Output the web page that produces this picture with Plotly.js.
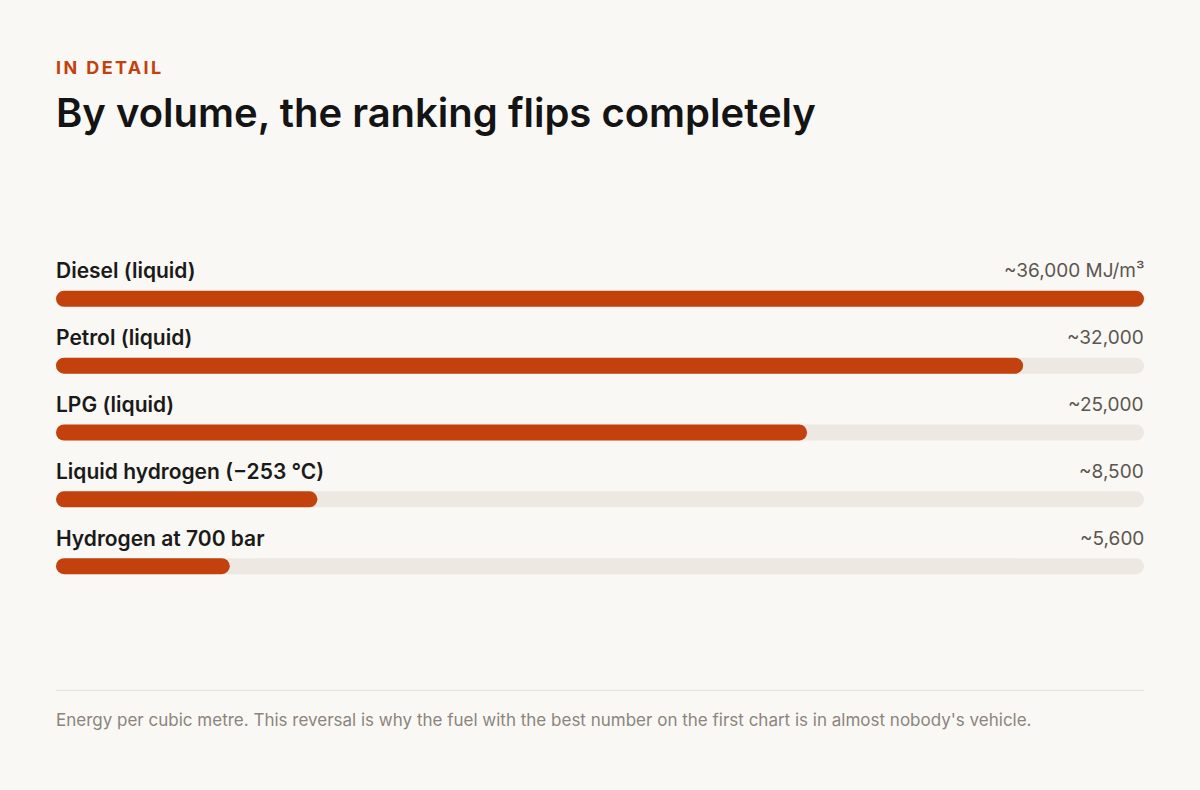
<!DOCTYPE html>
<html>
<head>
<meta charset="utf-8">
<script src="https://cdn.plot.ly/plotly-3.0.1.min.js"></script>
<style>
  html, body { margin: 0; padding: 0; background: #faf8f4; }
  #chart { width: 1200px; height: 790px; }
</style>
</head>
<body>
<div id="chart"></div>
<script>
// ---- data ----
const fuels = ["Diesel (liquid)", "Petrol (liquid)", "LPG (liquid)", "Liquid hydrogen (\u2212253 \u00b0C)", "Hydrogen at 700 bar"];
const energyMJm3 = [36000, 32000, 24850, 8650, 5750];
const valueLabels = ["~36,000 MJ/m\u00b3", "~32,000", "~25,000", "~8,500", "~5,600"];
const scaleMax = 36000;

const kicker = "IN DETAIL";
const titleText = "By volume, the ranking flips completely";
const footnote = "Energy per cubic metre. This reversal is why the fuel with the best number on the first chart is in almost nobody's vehicle.";

// ---- styles ----
const ORANGE = "#c2410c";
const TRACK = "#ede8e1";
const BG = "#faf8f4";
const FONT = "Inter, 'Noto Sans', sans-serif";
const BARW = 0.24;
const R = 8;

const rows = fuels.map((_, i) => i);
const zeroBase = fuels.map(() => 0);
const traces = [
  {
    type: "bar", orientation: "h", y: rows, x: fuels.map(() => scaleMax), base: zeroBase,
    width: BARW, marker: { color: TRACK, cornerradius: R, line: { width: 0 } },
    hoverinfo: "skip", showlegend: false
  },
  {
    type: "bar", orientation: "h", y: rows, x: energyMJm3, base: zeroBase,
    width: BARW, marker: { color: ORANGE, cornerradius: R, line: { width: 0 } },
    hoverinfo: "skip", showlegend: false
  }
];

const annotations = [];
fuels.forEach((f, i) => {
  annotations.push({
    xref: "paper", yref: "y", x: 0, y: i, yshift: 28,
    xanchor: "left", yanchor: "middle", showarrow: false, borderpad: 0, borderwidth: 0,
    text: f, font: { family: FONT, size: 21, color: "#1a1a1a", weight: 600 }
  });
  annotations.push({
    xref: "paper", yref: "y", x: 1, y: i, yshift: 28,
    xanchor: "right", yanchor: "middle", showarrow: false, borderpad: 0, borderwidth: 0,
    text: valueLabels[i], font: { family: FONT, size: 19, color: "#5a5650" }
  });
});

// header + footer positions in paper units (plot height 402px, bottom at 633.5px)
const H = 402, B = 633.5;
const py = p => (B - p) / H;
annotations.push({
  xref: "paper", yref: "paper", x: 0, y: py(67), xanchor: "left", yanchor: "middle",
  showarrow: false, text: kicker, borderpad: 0, borderwidth: 0,
  font: { family: FONT, size: 18, color: ORANGE, weight: 700 }
});
annotations.push({
  xref: "paper", yref: "paper", x: 0, y: py(112), xanchor: "left", yanchor: "middle",
  showarrow: false, text: titleText, borderpad: 0, borderwidth: 0,
  font: { family: FONT, size: 40, color: "#141414", weight: 600 }
});
annotations.push({
  xref: "paper", yref: "paper", x: 0, y: py(721), xanchor: "left", yanchor: "middle",
  showarrow: false, text: footnote, borderpad: 0, borderwidth: 0,
  font: { family: FONT, size: 17, color: "#8a857e" }
});

const layout = {
  width: 1200, height: 790,
  paper_bgcolor: BG, plot_bgcolor: BG,
  margin: { l: 56, r: 56, t: 231.5, b: 156.5, pad: 0 },
  barmode: "overlay",
  showlegend: false,
  xaxis: { range: [0, scaleMax], visible: false, fixedrange: true },
  yaxis: { range: [5, -1], visible: false, fixedrange: true },
  annotations: annotations,
  shapes: [{
    type: "line", xref: "paper", yref: "paper", x0: 0, x1: 1, y0: py(691), y1: py(691),
    line: { color: "#e3dfd8", width: 1 }
  }],
  hovermode: false
};

Plotly.newPlot("chart", traces, layout, { staticPlot: true, displayModeBar: false }).then(gd => {
  gd.querySelectorAll(".annotation-text").forEach(t => {
    if (t.textContent === kicker) {
      t.style.letterSpacing = "2.4px";
      const left = t.getBoundingClientRect().left - gd.getBoundingClientRect().left;
      const shift = 56 - left;
      const prev = t.getAttribute("transform") || "";
      t.setAttribute("transform", prev + " translate(" + shift + ",0)");
    }
  });
});
</script>
</body>
</html>
